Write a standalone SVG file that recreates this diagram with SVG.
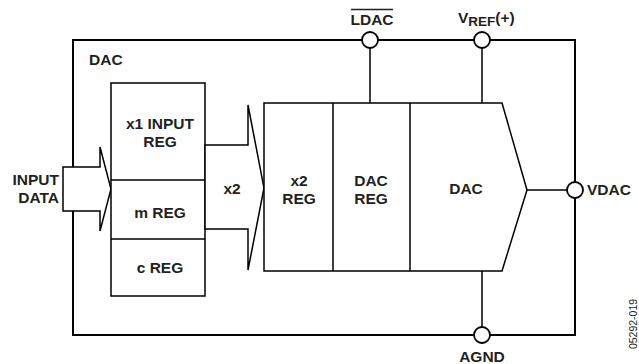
<svg xmlns="http://www.w3.org/2000/svg" width="639" height="364" viewBox="0 0 639 364">
<style>
  .t { font-family: "Liberation Sans", Arial, sans-serif; font-weight: bold; font-size: 15.5px; fill: #231f20; }
  .m { text-anchor: middle; }
  .thick { fill: none; stroke: #000; stroke-width: 2; }
  .ln { fill: none; stroke: #000; stroke-width: 1.5; }
  .wf { fill: #fff; stroke: #000; stroke-width: 1.5; }
  .pin { fill: #fff; stroke: #000; stroke-width: 1.8; }
  .code { font-family: "Liberation Sans", Arial, sans-serif; font-size: 10.5px; fill: #231f20; text-anchor: middle; }
</style>
<rect width="639" height="364" fill="#fff"/>

<g id="dac-outer">
  <rect class="thick" x="73" y="40" width="502" height="295"/>
  <text class="t" x="89" y="65">DAC</text>
</g>

<g id="input-data">
  <polygon class="wf" points="63,167 100,167 100,147 111,189 100,231 100,211 63,211"/>
  <text class="t" text-anchor="end" x="59" y="185">INPUT</text>
  <text class="t" text-anchor="end" x="59" y="203">DATA</text>
</g>

<g id="input-registers">
  <rect class="wf" x="111" y="83" width="94" height="213"/>
  <line class="ln" x1="111" y1="180" x2="205" y2="180"/>
  <line class="ln" x1="111" y1="239" x2="205" y2="239"/>
  <g id="x1-input-reg">
    <text class="t m" x="160" y="129">x1 INPUT</text>
    <text class="t m" x="160" y="147">REG</text>
  </g>
  <g id="m-reg"><text class="t m" x="160" y="218">m REG</text></g>
  <g id="c-reg"><text class="t m" x="160" y="273">c REG</text></g>
</g>

<g id="x2-bus">
  <polygon class="wf" points="205,145 248,145 248,105 264,188 248,270 248,229 205,229"/>
  <text class="t m" x="232" y="194">x2</text>
</g>

<g id="dac-core">
  <polygon class="wf" points="264,103 502,103 527,190 502,271 264,271"/>
  <line class="ln" x1="333" y1="103" x2="333" y2="271"/>
  <line class="ln" x1="410" y1="103" x2="410" y2="271"/>
  <g id="x2-reg">
    <text class="t m" x="299" y="186">x2</text>
    <text class="t m" x="299" y="204">REG</text>
  </g>
  <g id="dac-reg">
    <text class="t m" x="371" y="186">DAC</text>
    <text class="t m" x="371" y="204">REG</text>
  </g>
  <g id="dac-block">
    <text class="t m" x="466" y="194">DAC</text>
  </g>
</g>

<g id="connectors">
  <line class="ln" x1="370" y1="48" x2="370" y2="103"/>
  <line class="ln" x1="482" y1="48" x2="482" y2="103"/>
  <line class="ln" x1="482" y1="271" x2="482" y2="327"/>
  <line class="ln" x1="527" y1="190" x2="567" y2="190"/>
</g>

<g id="pin-ldac">
  <circle class="pin" cx="370" cy="40" r="8"/>
  <text class="t m" x="372" y="25">LDAC</text>
  <line x1="351" y1="9.5" x2="393" y2="9.5" stroke="#231f20" stroke-width="1.3"/>
</g>

<g id="pin-vref">
  <circle class="pin" cx="482" cy="40" r="8"/>
  <text class="t" x="458" y="23">V<tspan font-size="13.5" dy="3">REF</tspan><tspan dy="-3">(+)</tspan></text>
</g>

<g id="pin-vdac">
  <circle class="pin" cx="575" cy="190" r="8"/>
  <text class="t" x="587" y="195">VDAC</text>
</g>

<g id="pin-agnd">
  <circle class="pin" cx="482" cy="335" r="8"/>
  <text class="t m" x="482" y="362">AGND</text>
</g>

<text class="code" transform="translate(637,324) rotate(-90)">05292-019</text>
</svg>
